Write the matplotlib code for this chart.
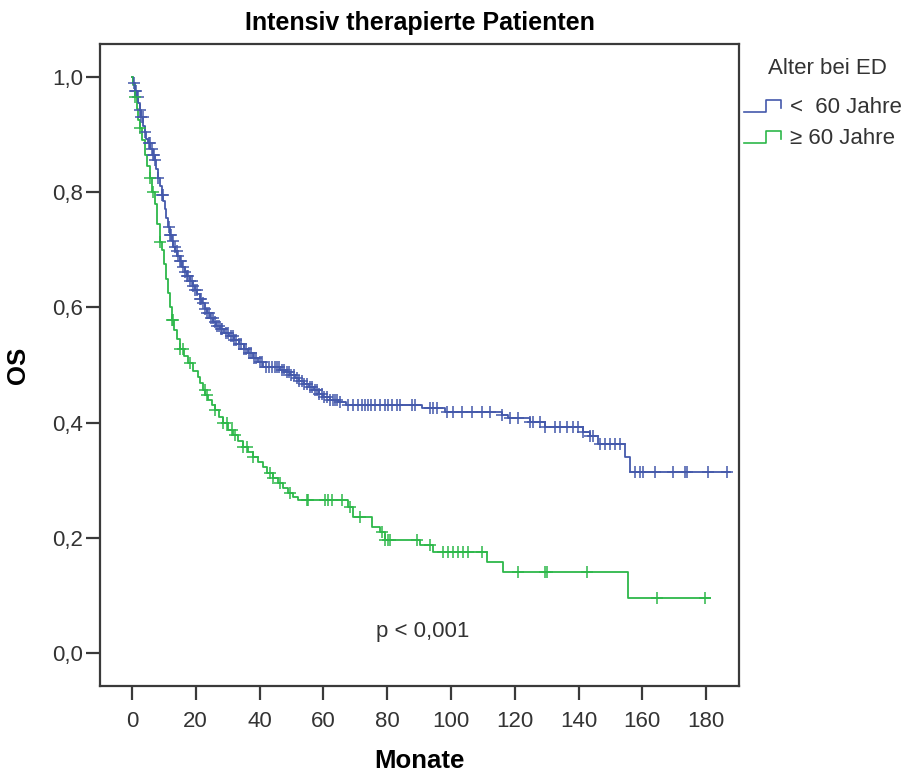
import numpy as np
import matplotlib
matplotlib.use("Agg")
import matplotlib.pyplot as plt
from matplotlib.lines import Line2D
from matplotlib.legend_handler import HandlerBase

plt.rcParams['font.family'] = ['Liberation Sans', 'DejaVu Sans']

# ---------------- data ----------------
title = "Intensiv therapierte Patienten"
x_label = "Monate"
y_label = "OS"
legend_title = "Alter bei ED"
group_labels = ["<  60 Jahre", "\u2265 60 Jahre"]
x_ticks = [0, 20, 40, 60, 80, 100, 120, 140, 160, 180]
y_ticks = [0.0, 0.2, 0.4, 0.6, 0.8, 1.0]
p_text = "p < 0,001"

# group < 60: event times and survival after the event
young_event_t = [0.5, 1.0, 1.5, 2.0, 2.5, 3.0, 3.5, 4.0, 4.5, 5.0, 5.8, 6.5, 7.2, 7.7, 8.2,
                 8.8, 9.3, 9.8, 10.3, 10.8, 11.3, 11.9, 12.5, 13.0, 13.5, 14.2, 15.0, 15.8,
                 16.5, 17.2, 18.2, 19.0, 19.8, 20.5, 21.3, 22.0, 22.8, 23.5, 24.5, 25.5, 26.5,
                 27.5, 29.0, 30.5, 32.0, 33.5, 35.0, 36.5, 38.0, 39.5, 41.0, 46.5, 48.0, 49.5,
                 51.0, 52.5, 54.0, 55.5, 57.0, 58.5, 60.0, 62.0, 64.5, 67.0, 90.9, 98.1, 116.0,
                 118.0, 124.8, 129.5, 141.4, 143.6, 146.1, 154.6, 156.0]
young_event_s = [0.99, 0.975, 0.965, 0.955, 0.943, 0.93, 0.915, 0.905, 0.893, 0.885, 0.875,
                 0.865, 0.855, 0.84, 0.825, 0.81, 0.795, 0.785, 0.77, 0.755, 0.74, 0.726, 0.715,
                 0.705, 0.698, 0.69, 0.68, 0.67, 0.662, 0.655, 0.645, 0.637, 0.63, 0.623, 0.615,
                 0.607, 0.598, 0.59, 0.582, 0.575, 0.568, 0.562, 0.556, 0.55, 0.543, 0.537,
                 0.528, 0.52, 0.512, 0.505, 0.497, 0.492, 0.487, 0.482, 0.477, 0.472, 0.467,
                 0.462, 0.456, 0.45, 0.445, 0.44, 0.436, 0.431, 0.425, 0.418, 0.413, 0.408,
                 0.401, 0.392, 0.384, 0.377, 0.363, 0.340, 0.314]
young_end = 187.5
young_censor_t = [0.8, 1.0, 1.4, 1.9, 2.5, 3.0, 3.4, 4.0, 5.3, 5.6, 6.2, 6.7, 7.0, 7.2, 8.2,
                  9.4, 9.7, 11.6, 11.9, 12.3, 12.9, 13.4, 14.1, 14.6, 15.0, 15.5, 16.0, 16.6,
                  17.2, 17.7, 18.2, 18.8, 19.3, 19.8, 20.3, 21.3, 21.7, 22.3, 22.9, 23.5, 24.1,
                  24.8, 25.4, 26.0, 26.6, 27.2, 27.8, 28.4, 29.5, 30.2, 31.0, 31.6, 32.0, 32.7,
                  33.5, 34.2, 35.0, 35.8, 36.7, 37.4, 38.2, 39.0, 40.0, 40.8, 42.0, 42.9, 44.0,
                  44.7, 45.5, 46.2, 47.0, 47.8, 48.5, 49.2, 50.0, 50.8, 51.7, 52.5, 53.3, 54.1,
                  55.0, 55.8, 56.5, 57.3, 58.0, 58.8, 59.5, 60.3, 61.1, 62.0, 63.0, 63.6, 64.3,
                  65.2, 67.7, 69.3, 70.9, 72.0, 73.1, 74.0, 75.0, 76.2, 77.8, 79.3, 80.3, 81.5,
                  83.1, 84.0, 87.8, 88.8, 93.4, 94.5, 95.6, 98.8, 100.7, 103.5, 106.6, 109.8,
                  112.3, 116.0, 118.5, 121.0, 124.8, 125.7, 127.9, 129.5, 132.6, 134.2, 136.4,
                  138.3, 139.9, 141.4, 143.6, 144.6, 146.8, 148.3, 149.9, 151.5, 153.0, 157.7,
                  159.3, 160.2, 164.0, 169.6, 173.4, 174.0, 180.6, 186.6]

# group >= 60
old_event_t = [0.5, 1.0, 1.5, 2.0, 2.5, 3.2, 4.0, 4.8, 5.6, 6.4, 7.2, 8.0, 8.8, 9.4, 10.0,
               10.6, 11.2, 11.9, 12.5, 13.2, 14.0, 15.0, 16.2, 17.6, 19.0, 20.7, 21.5, 22.3,
               23.0, 23.8, 25.0, 26.0, 27.2, 28.5, 30.0, 31.7, 33.2, 34.8, 36.5, 38.0, 39.5,
               41.0, 42.5, 44.2, 45.8, 47.4, 49.0, 50.5, 52.0, 67.7, 69.3, 75.3, 77.8, 79.3,
               90.3, 94.4, 111.3, 116.3, 155.5]
old_event_s = [0.985, 0.965, 0.945, 0.925, 0.911, 0.89, 0.865, 0.845, 0.825, 0.80, 0.78, 0.745,
               0.713, 0.70, 0.675, 0.65, 0.625, 0.60, 0.578, 0.56, 0.545, 0.528, 0.515, 0.503,
               0.49, 0.479, 0.468, 0.457, 0.448, 0.439, 0.43, 0.422, 0.41, 0.399, 0.388, 0.378,
               0.368, 0.358, 0.349, 0.340, 0.331, 0.323, 0.313, 0.304, 0.295, 0.286, 0.278,
               0.271, 0.266, 0.253, 0.236, 0.219, 0.21, 0.196, 0.1875, 0.175, 0.158, 0.141,
               0.095]
old_end = 181.3
old_censor_t = [1.0, 2.5, 5.6, 6.7, 8.8, 12.5, 13.0, 15.0, 16.0, 18.2, 22.9, 23.5, 26.0, 28.5,
                29.8, 31.4, 32.3, 34.8, 36.0, 38.0, 43.3, 44.2, 46.4, 49.5, 54.9, 55.3, 60.5,
                61.5, 62.7, 65.9, 68.4, 71.5, 78.4, 79.3, 80.3, 80.9, 89.4, 93.4, 97.5, 99.1,
                100.7, 102.2, 103.8, 105.4, 109.8, 121.1, 129.5, 130.1, 142.7, 164.6, 179.7]

colors = ["#4459ab", "#2db84a"]

# ---------------- plot ----------------
fig = plt.figure(figsize=(9.09, 7.72), dpi=100)
ax = fig.add_axes([0.110, 0.1114, 0.703, 0.8316])

def km_arrays(ev_t, ev_s, end):
    t = np.concatenate([[0.0], ev_t, [end]])
    s = np.concatenate([[1.0], ev_s, [ev_s[-1]]])
    return t, s

groups = [(young_event_t, young_event_s, young_end, young_censor_t),
          (old_event_t, old_event_s, old_end, old_censor_t)]

handles = []
for (et, es, end, ct), col, lab in zip(groups, colors, group_labels):
    t, s = km_arrays(np.array(et), np.array(es), end)
    ax.step(t, s, where='post', color=col, lw=1.3, zorder=3)
    ct = np.array(ct)
    idx = np.searchsorted(t, ct, side='right') - 1
    ax.plot(ct, s[idx], linestyle='none', marker='+', markersize=9,
            markeredgewidth=1.1, color=col, zorder=4)
    handles.append(Line2D([], [], color=col, lw=1.2, label=lab))

ax.set_xlim(-10, 190.3)
ax.set_ylim(-0.057, 1.057)
ax.set_xticks(x_ticks)
ax.set_xticklabels([str(v) for v in x_ticks])
ax.set_yticks(y_ticks)
ax.set_yticklabels([f"{v:.1f}".replace('.', ',') for v in y_ticks])

spine_col = "#3a3a3a"
for sp in ax.spines.values():
    sp.set_color(spine_col)
    sp.set_linewidth(1.6)
ax.tick_params(axis='both', direction='out', length=10, width=1.6, color=spine_col,
               labelsize=16, labelcolor="#333333")
ax.tick_params(axis='x', pad=8)
ax.tick_params(axis='y', pad=2)

ax.set_title(title, fontsize=18, fontweight='bold', pad=10)
ax.set_xlabel(x_label, fontsize=18.5, fontweight='bold', labelpad=12)
ax.set_ylabel(y_label, fontsize=18.5, fontweight='bold', labelpad=16)

ax.text(91, 0.037, p_text, ha='center', va='center', fontsize=16, color="#333333")


class StepHandler(HandlerBase):
    def create_artists(self, legend, orig_handle, xdescent, ydescent, width, height,
                       fontsize, trans):
        xs = np.array([0.0, 0.5, 0.5, 0.85, 0.85]) * width - xdescent
        ys = np.array([0.05, 0.05, 0.85, 0.85, 0.35]) * height - ydescent
        ln = Line2D(xs, ys, color=orig_handle.get_color(), lw=1.2, transform=trans)
        return [ln]


fig.text(827 / 909, 1 - 68 / 772, legend_title, ha='center', va='center',
         fontsize=16, color="#333333")
leg = fig.legend(handles=handles, labels=group_labels, loc='center left',
                 bbox_to_anchor=(0.818, 1 - 123 / 772), frameon=False,
                 fontsize=16, handlelength=2.0, handletextpad=0.1,
                 labelspacing=0.45, borderaxespad=0, borderpad=0,
                 handler_map={Line2D: StepHandler()})
for txt in leg.get_texts():
    txt.set_color("#333333")

fig.savefig("out.png", dpi=100)
